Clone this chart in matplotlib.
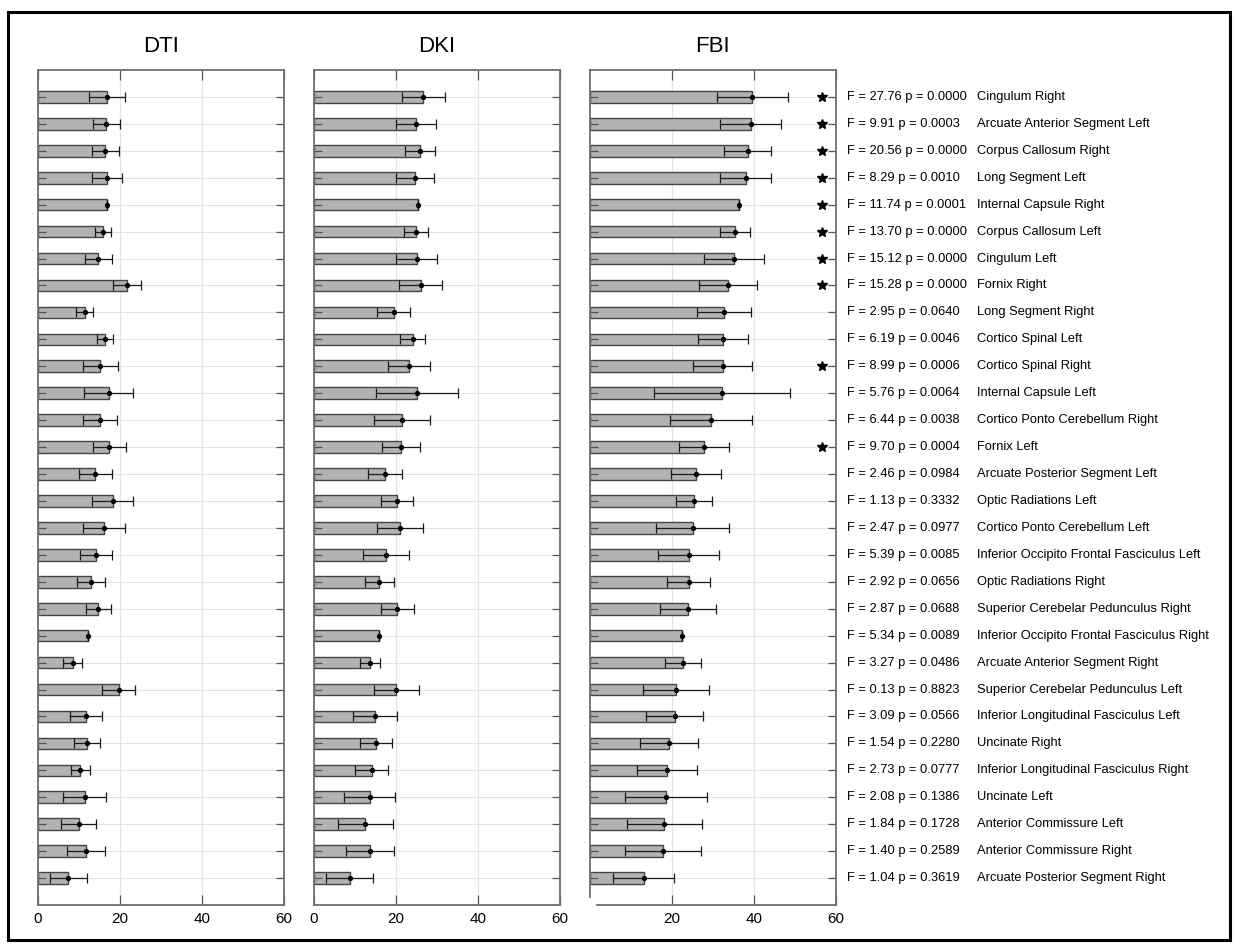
import matplotlib
matplotlib.use('Agg')
import matplotlib.pyplot as plt
from matplotlib.patches import Rectangle
import matplotlib.transforms as mtransforms
import numpy as np

plt.rcParams['font.family'] = ['Liberation Sans', 'DejaVu Sans']

# ---------------- data (rows top to bottom) ----------------
tracts = [
    "Cingulum Right", "Arcuate Anterior Segment Left", "Corpus Callosum Right",
    "Long Segment Left", "Internal Capsule Right", "Corpus Callosum Left",
    "Cingulum Left", "Fornix Right", "Long Segment Right", "Cortico Spinal Left",
    "Cortico Spinal Right", "Internal Capsule Left", "Cortico Ponto Cerebellum Right",
    "Fornix Left", "Arcuate Posterior Segment Left", "Optic Radiations Left",
    "Cortico Ponto Cerebellum Left", "Inferior Occipito Frontal Fasciculus Left",
    "Optic Radiations Right", "Superior Cerebelar Pedunculus Right",
    "Inferior Occipito Frontal Fasciculus Right", "Arcuate Anterior Segment Right",
    "Superior Cerebelar Pedunculus Left", "Inferior Longitudinal Fasciculus Left",
    "Uncinate Right", "Inferior Longitudinal Fasciculus Right", "Uncinate Left",
    "Anterior Commissure Left", "Anterior Commissure Right",
    "Arcuate Posterior Segment Right",
]

f_vals = [27.76, 9.91, 20.56, 8.29, 11.74, 13.70, 15.12, 15.28, 2.95, 6.19,
          8.99, 5.76, 6.44, 9.70, 2.46, 1.13, 2.47, 5.39, 2.92, 2.87,
          5.34, 3.27, 0.13, 3.09, 1.54, 2.73, 2.08, 1.84, 1.40, 1.04]
p_vals = [0.0000, 0.0003, 0.0000, 0.0010, 0.0001, 0.0000, 0.0000, 0.0000, 0.0640, 0.0046,
          0.0006, 0.0064, 0.0038, 0.0004, 0.0984, 0.3332, 0.0977, 0.0085, 0.0656, 0.0688,
          0.0089, 0.0486, 0.8823, 0.0566, 0.2280, 0.0777, 0.1386, 0.1728, 0.2589, 0.3619]
significant = [True, True, True, True, True, True, True, True, False, False,
               True, False, False, True, False, False, False, False, False, False,
               False, False, False, False, False, False, False, False, False, False]

dti_mean = [16.8, 16.7, 16.4, 16.8, 16.8, 15.8, 14.7, 21.7, 11.4, 16.4,
            15.2, 17.2, 15.1, 17.4, 14.0, 18.2, 16.0, 14.2, 12.9, 14.7,
            12.1, 8.5, 19.7, 11.7, 11.9, 10.3, 11.4, 9.9, 11.7, 7.4]
dti_err = [4.3, 3.3, 3.3, 3.7, 0.0, 1.9, 3.35, 3.4, 2.1, 1.9,
           4.2, 5.9, 4.1, 4.1, 4.1, 4.95, 5.1, 3.9, 3.35, 3.1,
           0.0, 2.35, 4.05, 3.85, 3.1, 2.3, 5.3, 4.3, 4.55, 4.55]

dki_mean = [26.7, 24.8, 25.9, 24.6, 25.4, 24.9, 25.0, 26.0, 19.4, 24.1,
            23.1, 25.1, 21.5, 21.2, 17.3, 20.3, 21.0, 17.6, 15.9, 20.3,
            15.8, 13.6, 20.1, 14.8, 15.1, 14.1, 13.6, 12.5, 13.7, 8.7]
dki_err = [5.25, 4.85, 3.7, 4.7, 0.0, 2.9, 5.1, 5.3, 3.95, 3.05,
           5.15, 10.0, 6.85, 4.6, 4.25, 3.9, 5.7, 5.65, 3.55, 4.0,
           0.0, 2.5, 5.4, 5.4, 3.9, 4.0, 6.25, 6.65, 5.9, 5.8]

fbi_mean = [39.7, 39.3, 38.5, 38.0, 36.5, 35.4, 35.2, 33.7, 32.7, 32.5,
            32.4, 32.3, 29.6, 27.9, 25.9, 25.4, 25.1, 24.2, 24.1, 24.0,
            22.6, 22.7, 21.1, 20.7, 19.4, 18.9, 18.6, 18.2, 17.9, 13.2]
fbi_err = [8.75, 7.4, 5.75, 6.2, 0.0, 3.6, 7.25, 7.1, 6.6, 6.1,
           7.15, 16.65, 10.1, 6.15, 6.05, 4.35, 8.85, 7.45, 5.25, 6.9,
           0.0, 4.45, 8.1, 7.05, 7.05, 7.25, 10.0, 9.2, 9.3, 7.4]

titles = ["DTI", "DKI", "FBI"]
x_ticks_full = [0, 20, 40, 60]
x_ticks_fbi = [20, 40, 60]
star_x = 56.7

# ---------------- layout ----------------
W, H = 1238, 948
fig = plt.figure(figsize=(W / 100, H / 100), dpi=100)

def fx(px):
    return px / W

def fy(py):
    return 1 - py / H

panel_left_px = [38, 314, 589.7]
panel_w_px = 246
top_px, bot_px = 70, 905

rows = np.arange(1, len(tracts) + 1)
series = [(dti_mean, dti_err), (dki_mean, dki_err), (fbi_mean, fbi_err)]

bar_color = '#b2b2b2'
edge_color = '#444444'
spine_color = '#6e6e6e'
grid_color = '#e4e4e4'

axes = []
for i, (title, (mean, err), lp) in enumerate(zip(titles, series, panel_left_px)):
    ax = fig.add_axes([fx(lp), fy(bot_px), panel_w_px / W, (bot_px - top_px) / H])
    axes.append(ax)
    ax.set_xlim(0, 60)
    ax.set_ylim(len(tracts) + 1, 0)
    for y in rows:
        ax.axhline(y, color=grid_color, lw=0.8, zorder=0)
    for xv in [20, 40]:
        ax.axvline(xv, color=grid_color, lw=0.9, zorder=0)
    ax.barh(rows, mean, height=0.43, color=bar_color, edgecolor=edge_color,
            linewidth=1.0, zorder=1)
    ax.errorbar(mean, rows, xerr=err, fmt='o', ms=2.8, color='black',
                ecolor='#1a1a1a', elinewidth=0.9, capsize=3.8, capthick=0.9,
                zorder=3)
    ax.set_yticks(rows)
    ax.set_yticklabels([])
    ax.tick_params(axis='y', direction='in', left=True, right=True,
                   length=6, width=0.9, color='#555555')
    ticks = x_ticks_fbi if title == "FBI" else x_ticks_full
    ax.set_xticks(ticks)
    ax.set_xticklabels([str(t) for t in ticks])
    ax.tick_params(axis='x', direction='in', top=True, bottom=True,
                   length=7, width=0.9, color='#555555', labelsize=11, pad=5)
    for s in ax.spines.values():
        s.set_color(spine_color)
        s.set_linewidth(1.3)
    fig.text(fx(lp + panel_w_px / 2), fy(47), title, ha='center', va='center',
             fontsize=16)

ax_fbi = axes[2]
ax_fbi.spines['bottom'].set_bounds(1.8, 60)
ax_fbi.spines['left'].set_bounds(0, 30.7)

# stars
for y, sig in zip(rows, significant):
    if sig:
        ax_fbi.plot(star_x, y, marker='*', color='black', ms=7, zorder=4,
                    clip_on=False)

# annotations
trans = mtransforms.blended_transform_factory(fig.transFigure, ax_fbi.transData)
for y, f, p, name in zip(rows, f_vals, p_vals, tracts):
    ax_fbi.text(fx(847), y, f"F = {f:.2f} p = {p:.4f}", transform=trans,
                ha='left', va='center', fontsize=9.3, clip_on=False)
    ax_fbi.text(fx(977), y, name, transform=trans, ha='left', va='center',
                fontsize=9.3, clip_on=False)

# outer frame
fig.patches.append(Rectangle((fx(8), fy(940)), fx(1222), (940 - 12) / H,
                             transform=fig.transFigure, fill=False,
                             edgecolor='black', linewidth=2.2))

fig.savefig('out.png', dpi=100)
